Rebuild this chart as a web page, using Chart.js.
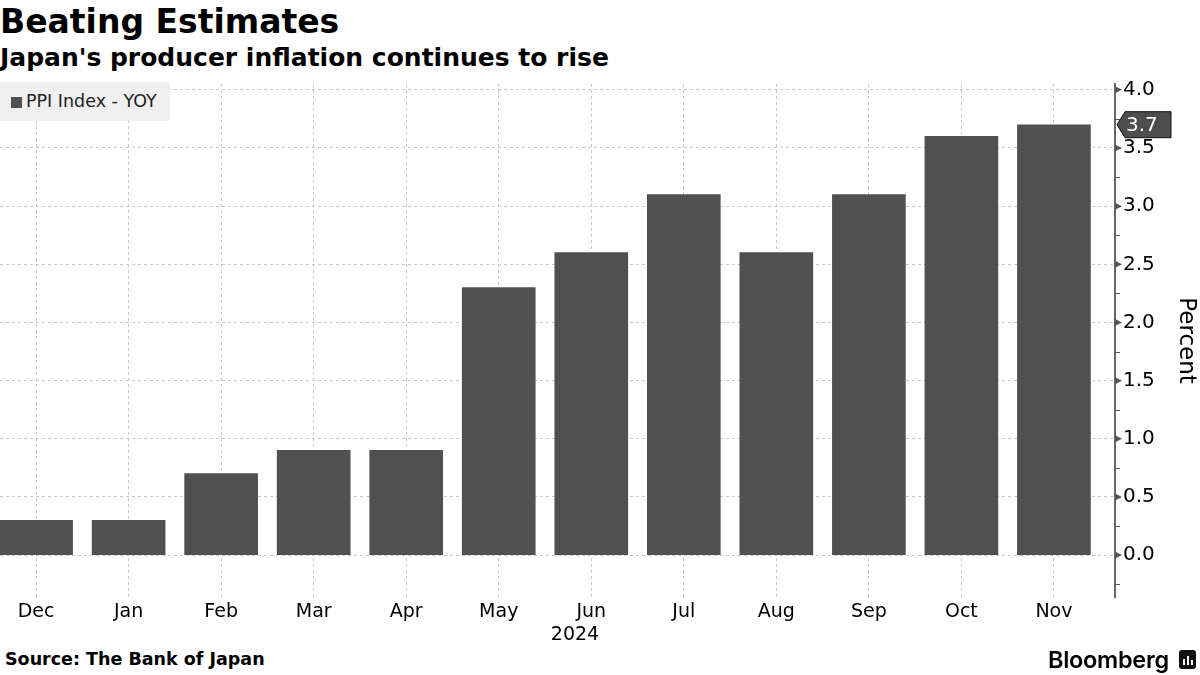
<!DOCTYPE html>
<html>
<head>
<meta charset="utf-8">
<script src="https://cdn.jsdelivr.net/npm/chart.js@4"></script>
<style>
  body { margin: 0; width: 1200px; height: 675px; background: #fff; position: relative; overflow: hidden; font-family: 'DejaVu Sans', sans-serif; color: #000; }
  #title { position: absolute; left: 0; top: 2px; font-size: 33px; font-weight: bold; white-space: nowrap; }
  #subtitle { position: absolute; left: 0; top: 43px; font-size: 25px; font-weight: bold; white-space: nowrap; }
  #wrap { position: absolute; left: 0; top: 64px; width: 1200px; height: 583px; }
  #legend { position: absolute; left: 0; top: 82px; width: 170px; height: 39px; background: #f0f0f0; border-radius: 2px; font-size: 17.5px; line-height: 39px; color: #222; }
  #legend .sw { display: inline-block; width: 11px; height: 11px; background: #505050; margin: 0 4px 0 11px; vertical-align: -1px; }
  #year { position: absolute; left: 545px; top: 622px; width: 60px; text-align: center; font-size: 19px; }
  #source { position: absolute; left: 5px; top: 649px; font-size: 17.5px; font-weight: bold; }
  #brand { position: absolute; left: 1048px; top: 645px; font-family: Inter, sans-serif; font-weight: 600; font-size: 23.5px; letter-spacing: -0.3px; }
  #icon { position: absolute; left: 1179px; top: 650px; width: 17px; height: 19px; background: #111; border-radius: 3px; }
  #icon i { position: absolute; bottom: 4px; width: 2px; background: #fff; }
</style>
</head>
<body>
<div id="title">Beating Estimates</div>
<div id="subtitle">Japan's producer inflation continues to rise</div>
<div id="wrap"><canvas id="chart"></canvas></div>
<div id="legend"><span class="sw"></span>PPI Index - YOY</div>
<div id="year">2024</div>
<div id="source">Source: The Bank of Japan</div>
<div id="brand">Bloomberg</div>
<div id="icon"><i style="left:4px;height:6px"></i><i style="left:8px;height:9px"></i><i style="left:12px;height:5px"></i></div>
<script>
const months = ['Dec', 'Jan', 'Feb', 'Mar', 'Apr', 'May', 'Jun', 'Jul', 'Aug', 'Sep', 'Oct', 'Nov'];
const ppiYoy = [0.3, 0.3, 0.7, 0.9, 0.9, 2.3, 2.6, 3.1, 2.6, 3.1, 3.6, 3.7];
const yTicks = [0, 0.5, 1.0, 1.5, 2.0, 2.5, 3.0, 3.5, 4.0];
const yMinorTicks = [-0.25, 0.25, 0.75, 1.25, 1.75, 2.25, 2.75, 3.25, 3.75];

const BAR = '#505050';
Chart.defaults.font.family = 'DejaVu Sans';
Chart.defaults.color = '#000';

// arrow ticks, minor ticks and the last value tag on the right axis
const axisMarks = {
  id: 'axisMarks',
  afterDraw(chart) {
    const { ctx, scales: { y } } = chart;
    const ax = y.left;
    ctx.save();
    ctx.fillStyle = '#555';
    yTicks.forEach(v => {
      const py = y.getPixelForValue(v);
      ctx.beginPath();
      ctx.moveTo(ax, py - 3.5);
      ctx.lineTo(ax + 7, py);
      ctx.lineTo(ax, py + 3.5);
      ctx.closePath();
      ctx.fill();
    });
    ctx.strokeStyle = '#555';
    ctx.lineWidth = 1;
    yMinorTicks.forEach(v => {
      const py = Math.round(y.getPixelForValue(v)) + 0.5;
      ctx.beginPath();
      ctx.moveTo(ax, py);
      ctx.lineTo(ax + 5, py);
      ctx.stroke();
    });

    const last = ppiYoy[ppiYoy.length - 1];
    const py = y.getPixelForValue(last);
    const x0 = ax + 2, x1 = ax + 10, x2 = ax + 56, h = 13;
    ctx.beginPath();
    ctx.moveTo(x0, py);
    ctx.lineTo(x1, py - h);
    ctx.lineTo(x2, py - h);
    ctx.lineTo(x2, py + h);
    ctx.lineTo(x1, py + h);
    ctx.closePath();
    ctx.fillStyle = '#4d4d4d';
    ctx.fill();
    ctx.strokeStyle = '#111';
    ctx.stroke();
    ctx.fillStyle = '#fff';
    ctx.font = '20px "DejaVu Sans"';
    ctx.textBaseline = 'middle';
    ctx.fillText(last.toFixed(1), x1 + 1, py + 1);
    ctx.restore();
  }
};

new Chart(document.getElementById('chart'), {
  type: 'bar',
  data: {
    datasets: [{
      label: 'PPI Index - YOY',
      data: ppiYoy.map((v, i) => ({ x: i, y: v })),
      backgroundColor: BAR,
      barThickness: 73,
    }],
  },
  options: {
    responsive: true, maintainAspectRatio: false, animation: false,
    layout: { padding: { top: 13, left: 0, right: 0, bottom: 0 } },
    plugins: { legend: { display: false }, tooltip: { enabled: false } },
    scales: {
      x: {
        type: 'linear', min: -0.39, max: 11.66, offset: false,
        afterBuildTicks: s => { s.ticks = months.map((m, i) => ({ value: i })); },
        afterFit: s => { s.height = 50; },
        ticks: { callback: v => months[v], font: { size: 19 }, padding: 4, maxRotation: 0, autoSkip: false },
        grid: { color: '#c8c8c8', drawTicks: false, offset: false },
        border: { display: false, dash: [3, 3] },
      },
      y: {
        position: 'right', min: -0.36, max: 4.05,
        afterBuildTicks: s => { s.ticks = yTicks.map(v => ({ value: v })); },
        afterFit: s => { s.width = 85; },
        ticks: { callback: v => v.toFixed(1), font: { size: 20 }, padding: 8 },
        grid: { color: '#c8c8c8', drawTicks: false },
        border: { display: true, color: '#666', width: 2, dash: [3, 3] },
        title: { display: true, text: 'Percent', font: { size: 23 }, padding: { top: 0, bottom: 2 } },
      },
    },
  },
  plugins: [axisMarks],
});
</script>
</body>
</html>
